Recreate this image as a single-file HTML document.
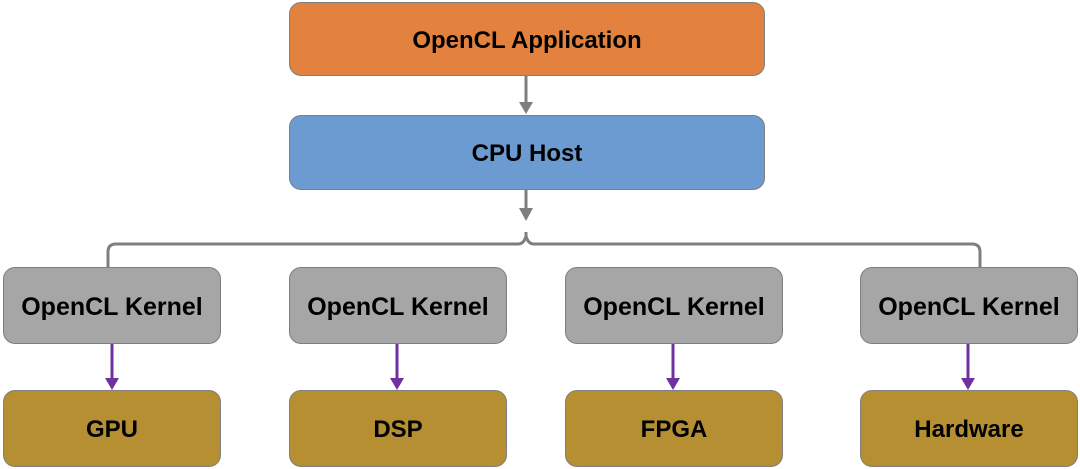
<!DOCTYPE html>
<html><head><style>
body{margin:0;width:1080px;height:469px;background:#fff;position:relative;overflow:hidden;font-family:"Liberation Sans",sans-serif;}
.b{position:absolute;box-sizing:border-box;border:1.5px solid #7f7f7f;border-radius:12px;display:flex;align-items:center;justify-content:center;font-weight:bold;color:#000;padding-top:3px;}
.o{background:#E3823F;font-size:24px;}
.c{background:#6B9BD1;font-size:24px;}
.k{background:#A6A6A6;font-size:25px;top:267px;height:77px;width:218px;}
.g{background:#B58F31;font-size:24px;top:390px;height:77px;width:218px;}
</style></head><body>
<svg width="1080" height="469" style="position:absolute;left:0;top:0">
<g stroke="#7f7f7f" stroke-width="3" fill="none">
<line x1="526" y1="75" x2="526" y2="104"/>
<line x1="526" y1="189" x2="526" y2="210"/>
<path d="M108 267 V252 Q108 244 116 244 H518 Q524 244 526 236 V232 M526 236 Q528 244 534 244 H972 Q980 244 980 252 V267"/>
</g>
<g fill="#7f7f7f">
<polygon points="519,102 533,102 526,114"/>
<polygon points="519,208 533,208 526,221"/>
</g>
<g stroke="#7030A0" stroke-width="3">
<line x1="112" y1="344" x2="112" y2="380"/>
<line x1="397" y1="344" x2="397" y2="380"/>
<line x1="673" y1="344" x2="673" y2="380"/>
<line x1="968" y1="344" x2="968" y2="380"/>
</g>
<g fill="#7030A0">
<polygon points="105,378 119,378 112,390"/>
<polygon points="390,378 404,378 397,390"/>
<polygon points="666,378 680,378 673,390"/>
<polygon points="961,378 975,378 968,390"/>
</g>
</svg>
<div class="b o" style="left:289px;top:2px;width:476px;height:74px;">OpenCL Application</div>
<div class="b c" style="left:289px;top:115px;width:476px;height:75px;">CPU Host</div>
<div class="b k" style="left:3px;">OpenCL Kernel</div>
<div class="b k" style="left:289px;">OpenCL Kernel</div>
<div class="b k" style="left:565px;">OpenCL Kernel</div>
<div class="b k" style="left:860px;">OpenCL Kernel</div>
<div class="b g" style="left:3px;">GPU</div>
<div class="b g" style="left:289px;">DSP</div>
<div class="b g" style="left:565px;">FPGA</div>
<div class="b g" style="left:860px;">Hardware</div>
</body></html>
